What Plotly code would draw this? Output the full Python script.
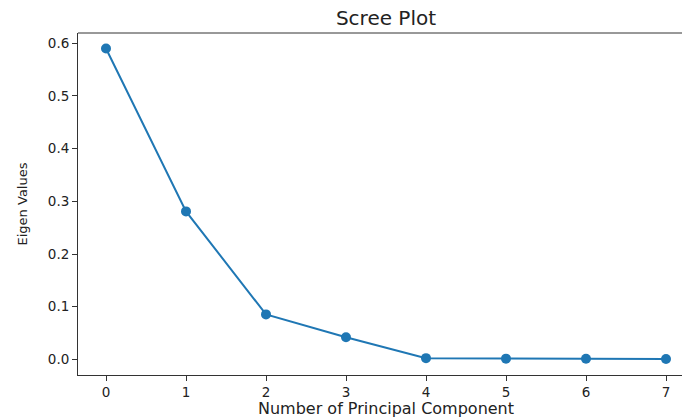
import plotly.graph_objects as go

# Principal component index and the eigenvalue of each component
components = [0, 1, 2, 3, 4, 5, 6, 7]
eigen_values = [0.590, 0.281, 0.0855, 0.042, 0.0025, 0.0015, 0.0012, 0.0008]

x_ticks = [0, 1, 2, 3, 4, 5, 6, 7]
y_ticks = [0.0, 0.1, 0.2, 0.3, 0.4, 0.5, 0.6]

blue = "#1f77b4"
font = "DejaVu Sans"
text_color = "#222222"

fig = go.Figure(
    go.Scatter(
        x=components,
        y=eigen_values,
        mode="lines+markers",
        line=dict(color=blue, width=2),
        marker=dict(color=blue, size=10),
        showlegend=False,
    )
)

axis_common = dict(
    showgrid=False,
    zeroline=False,
    showline=True,
    linecolor="#333333",
    linewidth=1,
    ticks="outside",
    ticklen=5,
    tickwidth=1,
    tickcolor="#333333",
    tickfont=dict(family=font, size=13.5, color=text_color),
)

fig.update_xaxes(range=[-0.35, 7.2], tickvals=x_ticks, **axis_common)
fig.update_yaxes(
    range=[-0.0295, 0.6195],
    tickvals=y_ticks,
    tickformat=".1f",
    title=dict(text="Eigen Values",
               font=dict(family=font, size=13, color=text_color),
               standoff=17),
    **axis_common,
)

# Top frame line of the axes box
fig.add_shape(type="line", xref="paper", yref="paper",
              x0=0, x1=1, y0=1, y1=1,
              line=dict(color="#333333", width=1))

# x-axis label, centred under the full axes box
fig.add_annotation(
    text="Number of Principal Component",
    xref="paper", yref="paper",
    x=(386 - 78) / (682 - 78), y=-(408 - 375) / (375 - 33),
    xanchor="center", yanchor="middle", showarrow=False,
    font=dict(family=font, size=16, color=text_color),
)

fig.update_layout(
    width=682,
    height=417,
    margin=dict(l=78, r=0, t=33, b=42),
    paper_bgcolor="white",
    plot_bgcolor="white",
    title=dict(text="Scree Plot", x=386 / 682,
               xanchor="center", y=1 - 18 / 417, yanchor="middle",
               font=dict(family=font, size=20, color=text_color)),
)

fig.write_html("out.html")
